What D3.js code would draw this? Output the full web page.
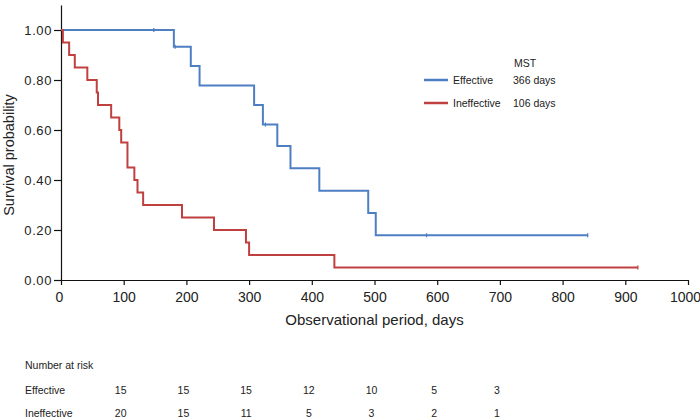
<!DOCTYPE html>
<html lang="en">
<head>
	<meta charset="utf-8">
	<title>Survival curves</title>
	<script src="https://cdnjs.cloudflare.com/ajax/libs/d3/7.8.5/d3.min.js"></script>
	<style>
	body {
		margin: 0;
		background-color: #fff;
	}
	svg text {
		font-family: "Liberation Sans", Arial, Helvetica, sans-serif;
		fill: #222;
	}
	</style>
</head>
<body>
<svg id="chart" width="700" height="420"></svg>
<script>
// Kaplan-Meier steps (days, survival)
var effTimes = [0, 180, 207, 221, 308, 322, 345, 366, 412, 490, 502, 840];
var effSurv  = [1, 0.933, 0.856, 0.778, 0.700, 0.622, 0.536, 0.447, 0.357, 0.268, 0.179, 0.179];
var effCensor = [148, 182, 326, 583, 840];

var ineTimes = [0, 3, 13, 22, 42, 57, 59, 80, 93, 96, 106, 117, 122, 131, 193, 244, 295, 300, 436, 920];
var ineSurv  = [1, 0.95, 0.90, 0.85, 0.80, 0.75, 0.70, 0.65, 0.60, 0.55, 0.45, 0.40, 0.35, 0.30, 0.25, 0.20, 0.15, 0.10, 0.05, 0.05];
var ineCensor = [920];

var groups = ['Effective', 'Ineffective'];
var mst = ['366 days', '106 days'];
var colors = ['#4f7fc3', '#c0403f'];

var xTicks = [0, 100, 200, 300, 400, 500, 600, 700, 800, 900, 1000];
var yTicks = [0, 0.2, 0.4, 0.6, 0.8, 1.0];

var riskCols = [100, 200, 300, 400, 500, 600, 700];
var riskEff = [15, 15, 15, 12, 10, 5, 3];
var riskIne = [20, 15, 11, 5, 3, 2, 1];

var svg = d3.select('#chart');

var x = d3.scaleLinear().domain([0, 1000]).range([61, 688]);
var y = d3.scaleLinear().domain([0, 1.1]).range([280, 5]);

// axes
var xAxis = d3.axisBottom(x).tickValues(xTicks).tickFormat(d3.format('d'))
	.tickSize(5).tickPadding(7).tickSizeOuter(0);
var gx = svg.append('g').attr('transform', 'translate(0,280)').call(xAxis);
gx.selectAll('text').style('font-size', '14px');
gx.select('.tick text').attr('dx', '-2');
gx.selectAll('.tick text').filter(function(d) { return d === 1000; }).attr('dx', '-3');

var yAxis = d3.axisLeft(y).tickValues(yTicks).tickFormat(d3.format('.2f'))
	.tickSize(7).tickPadding(2).tickSizeOuter(0);
var gy = svg.append('g').attr('transform', 'translate(61,0)').call(yAxis);
gy.selectAll('text').style('font-size', '13px').style('letter-spacing', '0.6px');

svg.selectAll('.domain, .tick line').attr('stroke', '#111').attr('stroke-width', 1.2);

svg.append('text')
	.attr('x', (x(0) + x(1000)) / 2).attr('y', 325)
	.attr('text-anchor', 'middle')
	.style('font-size', '15px')
	.text('Observational period, days');

svg.append('text')
	.attr('transform', 'translate(14,' + y(0.5) + ') rotate(-90)')
	.attr('text-anchor', 'middle')
	.style('font-size', '14.5px')
	.text('Survival probability');

// curves
var line = d3.line()
	.x(function(d) { return x(d[0]); })
	.y(function(d) { return y(d[1]); })
	.curve(d3.curveStepAfter);

function levelAt(times, surv, t) {
	var i = d3.bisectRight(times, t) - 1;
	return surv[Math.max(i, 0)];
}

var series = [
	{times: effTimes, surv: effSurv, censor: effCensor},
	{times: ineTimes, surv: ineSurv, censor: ineCensor}
];

series.forEach(function(s, k) {
	svg.append('path')
		.datum(d3.zip(s.times, s.surv))
		.attr('d', line)
		.attr('fill', 'none')
		.attr('stroke', colors[k])
		.attr('stroke-width', 2);

	svg.selectAll('.c' + k)
		.data(s.censor)
		.enter().append('line')
		.attr('x1', function(d) { return x(d); })
		.attr('x2', function(d) { return x(d); })
		.attr('y1', function(d) { return y(levelAt(s.times, s.surv, d)) - 2; })
		.attr('y2', function(d) { return y(levelAt(s.times, s.surv, d)) + 2; })
		.attr('stroke', colors[k])
		.attr('stroke-width', 1.3);
});

// legend
var leg = svg.append('g').attr('transform', 'translate(424,80)');
leg.append('text')
	.attr('x', 90).attr('y', -17)
	.attr('dominant-baseline', 'central')
	.style('font-size', '10.5px')
	.text('MST');
groups.forEach(function(g, i) {
	var row = leg.append('g').attr('transform', 'translate(0,' + (i * 23) + ')');
	row.append('line')
		.attr('x1', 0).attr('x2', 24)
		.attr('stroke', colors[i]).attr('stroke-width', 2.5);
	row.append('text')
		.attr('x', 29)
		.attr('dominant-baseline', 'central')
		.style('font-size', '10.5px')
		.text(g);
	row.append('text')
		.attr('x', 89)
		.attr('dominant-baseline', 'central')
		.style('font-size', '10.5px')
		.text(mst[i]);
});

// number at risk table
svg.append('text')
	.attr('x', 25).attr('y', 365)
	.attr('dominant-baseline', 'central')
	.style('font-size', '10.5px')
	.text('Number at risk');

[riskEff, riskIne].forEach(function(vals, i) {
	var ry = 390 + i * 23;
	svg.append('text')
		.attr('x', 25).attr('y', ry)
		.attr('dominant-baseline', 'central')
		.style('font-size', '10.5px')
		.text(groups[i]);
	svg.selectAll('.r' + i)
		.data(vals)
		.enter().append('text')
		.attr('x', function(d, j) { return x(riskCols[j]) - 3; })
		.attr('y', ry)
		.attr('text-anchor', 'middle')
		.attr('dominant-baseline', 'central')
		.style('font-size', '10.5px')
		.text(function(d) { return d; });
});
</script>
</body>
</html>
